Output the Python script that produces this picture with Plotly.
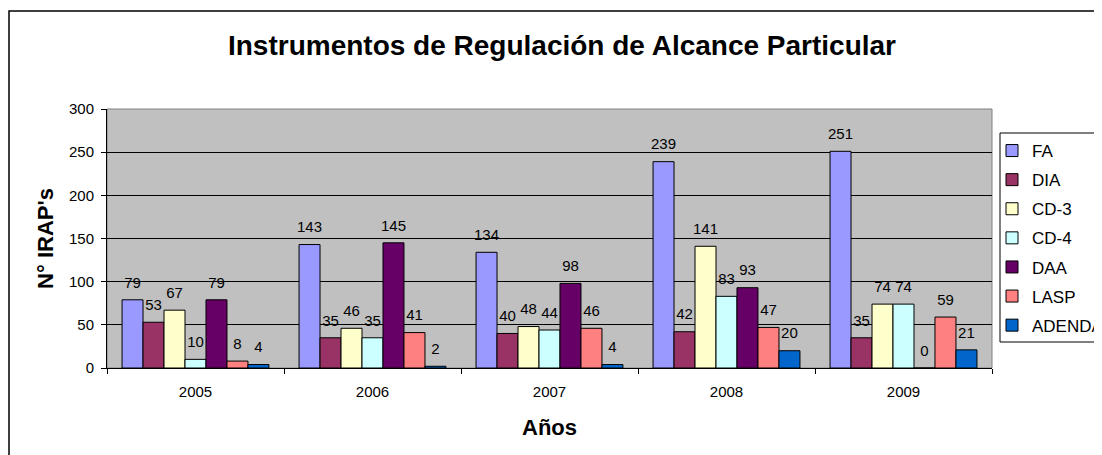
import plotly.graph_objects as go

years = ["2005", "2006", "2007", "2008", "2009"]
series_names = ["FA", "DIA", "CD-3", "CD-4", "DAA", "LASP", "ADENDA"]
fa = [79, 143, 134, 239, 251]
dia = [53, 35, 40, 42, 35]
cd3 = [67, 46, 48, 141, 74]
cd4 = [10, 35, 44, 83, 74]
daa = [79, 145, 98, 93, 0]
lasp = [8, 41, 46, 47, 59]
adenda = [4, 2, 4, 20, 21]
colors = ["#9999FF", "#993366", "#FFFFCC", "#CCFFFF", "#660066", "#FF8080", "#0066CC"]
yticks = [0, 50, 100, 150, 200, 250, 300]

FONT = "Arial, 'Liberation Sans', sans-serif"
OFF = 8  # page body margin
W, H = 1102 - OFF, 455 - OFF
L, R, T, B = 107 - OFF, 110, 109 - OFF, 87
GAP = 0.17

fig = go.Figure()
all_series = [fa, dia, cd3, cd4, daa, lasp, adenda]
for name, vals, col in zip(series_names, all_series, colors):
    fig.add_trace(go.Bar(
        name=name, x=years, y=vals, legendgroup=name,
        marker=dict(color=col, line=dict(color="black", width=1)),
    ))
# data labels, grouped to sit over the bars
for name, vals in zip(series_names, all_series):
    fig.add_trace(go.Scatter(
        x=years, y=vals, mode="markers+text", showlegend=False,
        marker=dict(size=12, opacity=0), text=[str(v) for v in vals],
        textposition="top center", cliponaxis=False, hoverinfo="skip",
        textfont=dict(family=FONT, size=15, color="black"),
    ))

pw = W - L - R
ph = H - T - B

def px_x(page_x):
    return (page_x - OFF - L) / pw

def px_y(page_y):
    return (H - B - (page_y - OFF)) / ph

fig.update_layout(
    width=W, height=H,
    margin=dict(l=L, r=R, t=T, b=B, pad=0, autoexpand=False),
    barmode="group", bargap=GAP, bargroupgap=0,
    scattermode="group", scattergap=GAP,
    paper_bgcolor="white", plot_bgcolor="#C0C0C0",
    font=dict(family=FONT, color="black"),
    title=dict(text="<b>Instrumentos de Regulación de Alcance Particular</b>",
               font=dict(family=FONT, size=28, color="black"),
               x=px_x(562), xref="paper", xanchor="center",
               y=1 - (45 - OFF) / H, yref="container", yanchor="middle"),
    xaxis=dict(
        type="category", tickson="boundaries", ticks="outside", ticklen=5,
        tickcolor="black", showline=True, linecolor="black", linewidth=1,
        tickfont=dict(family=FONT, size=15, color="black"),
        ticklabelstandoff=10,
        title=dict(text="<b>Años</b>", font=dict(family=FONT, size=22, color="black"), standoff=20),
        showgrid=False,
    ),
    yaxis=dict(
        range=[0, 300], tickvals=yticks, ticks="outside", ticklen=5,
        tickcolor="black", showline=True, linecolor="black", linewidth=1,
        showgrid=True, gridcolor="black", gridwidth=1,
        tickfont=dict(family=FONT, size=15, color="black"),
        ticklabelstandoff=4,
        title=dict(text="<b>N° IRAP's</b>", font=dict(family=FONT, size=22, color="black"), standoff=9),
        zeroline=False,
    ),
    legend=dict(
        x=px_x(992), xanchor="left", y=px_y(133), yanchor="top",
        bgcolor="rgba(0,0,0,0)", borderwidth=0,
        font=dict(family=FONT, size=17, color="black"),
        traceorder="grouped", tracegroupgap=4,
    ),
    showlegend=True,
)

# plot-area border (gray)
fig.add_shape(type="rect", xref="paper", yref="paper", x0=0, x1=1, y0=0, y1=1,
              line=dict(color="#808080", width=1), layer="below")
# legend box
fig.add_shape(type="rect", xref="paper", yref="paper",
              x0=px_x(1000), x1=px_x(1130), y0=px_y(342), y1=px_y(133),
              line=dict(color="black", width=1), fillcolor="white", layer="above")
# outer chart border
fig.add_shape(type="rect", xref="paper", yref="paper",
              x0=px_x(9), x1=px_x(1125), y0=px_y(480), y1=px_y(11),
              line=dict(color="black", width=1.5), fillcolor="rgba(0,0,0,0)", layer="above")

fig.write_html("out.html")
